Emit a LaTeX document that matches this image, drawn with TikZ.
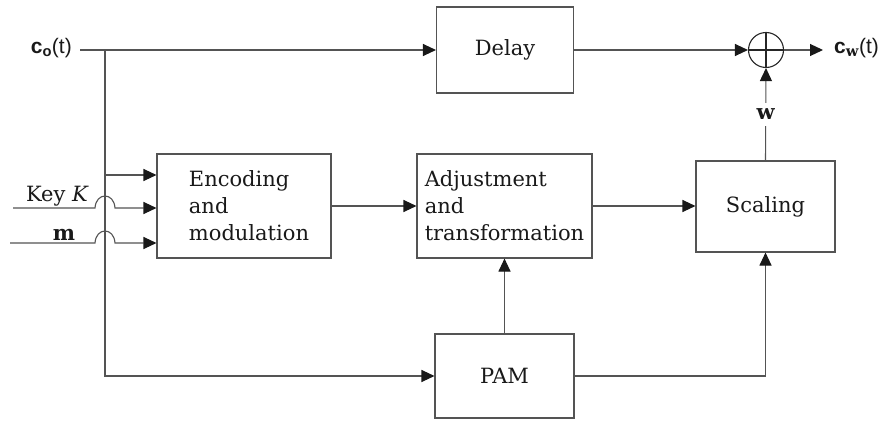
\documentclass[tikz,border=0pt]{standalone}
\usepackage{fontspec}
\setmainfont{DejaVu Serif}
\newfontfamily\labelsans{Liberation Sans}
\usetikzlibrary{arrows.meta}

\definecolor{wire}{gray}{0.33}
\definecolor{tipcol}{gray}{0.1}

\tikzset{
  txt/.style={font=\fontsize{21}{27}\selectfont, text=black!90},
  block/.style={draw=wire, line width=1.1pt, fill=white, inner sep=0pt, txt},
  wireline/.style={draw=wire, line width=1.1pt},
  arr/.style={wireline, -{Triangle[length=13pt,width=12pt,fill=tipcol,color=tipcol]}},
  adder/.style={circle, draw=black!85, line width=1.1pt, minimum size=35pt, inner sep=0pt},
  sig/.style={txt, inner sep=1pt}
}

\begin{document}
\begin{tikzpicture}[x=1pt,y=-1pt]
  \useasboundingbox[fill=white] (0,0) rectangle (896,420);

  % blocks
  \node[block, minimum width=137pt, minimum height=86pt] (delay) at (505,50) {Delay};
  \node[block, minimum width=174pt, minimum height=104pt, align=left] (enc) at (244,206)
    {\hspace*{10pt}Encoding\\\hspace*{10pt}and\\\hspace*{10pt}modulation};
  \node[block, minimum width=175pt, minimum height=104pt, align=left] (adj) at (504.5,206)
    {Adjustment\\and\\transformation};
  \node[block, minimum width=139pt, minimum height=91pt] (scal) at (765.5,206.5) {Scaling};
  \node[block, minimum width=139pt, minimum height=84pt] (pam) at (504.5,376) {PAM};

  % summing junction
  \node[adder] (sum) at (766,50) {};
  \draw[line width=1.1pt, draw=black!85] (sum.north) -- (sum.south) (sum.west) -- (sum.east);

  % inputs and outputs
  \coordinate (co) at (80,50);
  \coordinate (tap) at (105,50);
  \coordinate (tapenc) at (105,175);
  \coordinate (keyin) at (13,208);
  \coordinate (msgin) at (10,243);
  \coordinate (cw) at (823,50);

  \node[sig, anchor=east] (colabel) at (73,48)
    {\labelsans\textbf{c}\textsubscript{\textbf{o}}(t)};
  \node[sig, anchor=west] (cwlabel) at (833,48)
    {\labelsans\textbf{c}\textsubscript{\rmfamily\bfseries w}(t)};
  \node[sig, anchor=base east] (keylabel) at (90,201) {Key \textit{K}};
  \node[sig, anchor=base] (mlabel) at (64,240) {\textbf{m}};

  % top path: original signal through the delay into the adder
  \draw[arr] (co) -- (delay.west);
  \draw[arr] (delay.east) -- (sum.west);
  \draw[arr] (sum.east) -- (cw);

  % branch of the original signal
  \draw[arr] (tap) |- (pam.west);
  \draw[arr] (tapenc) -- (tapenc -| enc.west);

  % key and message, hopping over the branch line
  \draw[arr] (keyin) -- (95,208) .. controls (96,192) and (114,192) .. (115,208)
    -- (keyin -| enc.west);
  \draw[arr] (msgin) -- (95,243) .. controls (96,227) and (114,227) .. (115,243)
    -- (msgin -| enc.west);

  % middle chain
  \draw[arr] (enc.east) -- (enc.east -| adj.west);
  \draw[arr] (adj.east) -- (adj.east -| scal.west);
  \draw[arr] (pam.north) -- (adj.south);
  \draw[arr] (pam.east) -| (scal.south);

  % watermark into the adder
  \draw[arr] (scal.north) -- (sum.south)
    node[pos=0.5, sig, fill=white, inner ysep=6pt] (wlabel) {\textbf{w}};
\end{tikzpicture}
\end{document}
